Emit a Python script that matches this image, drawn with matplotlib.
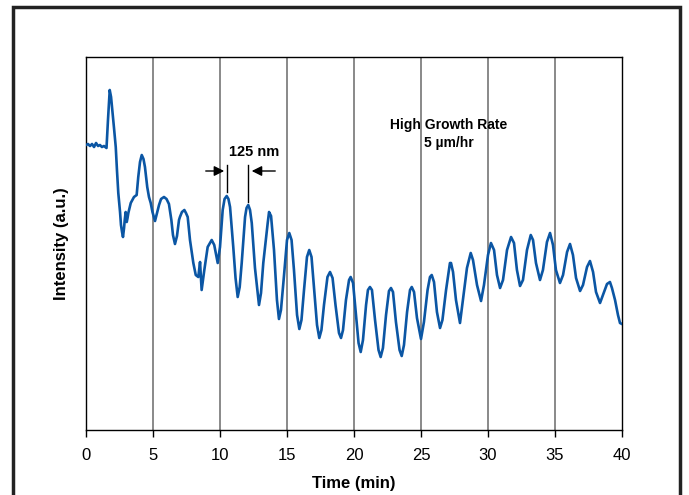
import matplotlib
matplotlib.use("Agg")
import matplotlib.pyplot as plt
from matplotlib.patches import Rectangle

# データ (時間 [min], 強度 [a.u.])
time_min = [
    0.00, 0.15, 0.30, 0.45, 0.60, 0.75, 0.90, 1.04, 1.19, 1.34, 1.53,
    1.64, 1.77, 1.87, 1.98, 2.09, 2.22, 2.31, 2.41, 2.54, 2.61, 2.69, 2.76,
    2.84, 2.89, 2.96, 3.04, 3.10, 3.16, 3.34, 3.58, 3.78,
    3.90, 4.03, 4.16, 4.29, 4.40, 4.57, 4.70, 4.83, 4.96, 5.15,
    5.30, 5.45, 5.60, 5.82, 6.01, 6.19, 6.37, 6.49, 6.64,
    6.79, 6.94, 7.01, 7.16, 7.34, 7.46, 7.59, 7.76, 8.01, 8.19, 8.38,
    8.51, 8.63, 8.83, 9.08, 9.38, 9.57, 9.83, 10.00,
    10.20, 10.34, 10.50, 10.63, 10.75, 10.99, 11.16, 11.32,
    11.47, 11.62, 11.87, 11.98, 12.11, 12.24, 12.37, 12.61, 12.91,
    13.06, 13.23, 13.56, 13.66, 13.81, 14.03, 14.25, 14.40,
    14.55, 14.78, 15.00, 15.17, 15.34, 15.52, 15.75, 15.92,
    16.08, 16.27, 16.49, 16.66, 16.83, 17.01, 17.24, 17.41,
    17.57, 17.76, 18.02, 18.21, 18.40, 18.62, 18.88, 19.03,
    19.18, 19.40, 19.63, 19.75, 19.93, 20.15, 20.34, 20.50,
    20.67, 20.90, 21.04, 21.19, 21.34, 21.57, 21.83, 21.99,
    22.16, 22.39, 22.61, 22.76, 22.91, 23.13, 23.40, 23.56,
    23.73, 23.96, 24.18, 24.31, 24.48, 24.70, 25.00,
    25.22, 25.49, 25.67, 25.80, 25.97, 26.19, 26.42,
    26.60, 26.87, 27.16, 27.24, 27.39, 27.61, 27.91,
    28.13, 28.43, 28.71, 28.88, 29.18, 29.48,
    29.70, 30.00, 30.22, 30.45, 30.67, 30.90,
    31.12, 31.42, 31.72, 31.94, 32.16, 32.39,
    32.61, 32.91, 33.19, 33.36, 33.58, 33.88,
    34.10, 34.40, 34.63, 34.85, 35.07, 35.37,
    35.60, 35.90, 36.12, 36.34, 36.57, 36.87,
    37.09, 37.39, 37.61, 37.84, 38.06, 38.36,
    38.58, 38.88, 39.10, 39.25, 39.48, 39.70, 39.85, 40.00,
]
intensity = [
    285, 286, 284, 286, 283, 287, 284, 285, 283, 284, 282,
    310, 340, 333, 318, 302, 283, 260, 237, 218, 205, 198, 193,
    202, 210, 218, 208, 212, 217, 227, 233, 235,
    253, 268, 275, 271, 263, 243, 233, 227, 218, 209,
    217, 225, 231, 233, 231, 226, 210, 195, 186,
    194, 210, 213, 218, 220, 217, 213, 190, 167, 155, 153,
    168, 140, 160, 183, 190, 185, 167, 183,
    220, 231, 234, 231, 223, 183, 152, 133,
    143, 167, 213, 222, 225, 220, 207, 162, 125,
    137, 167, 207, 218, 214, 180, 130, 111,
    120, 155, 190, 197, 190, 160, 115, 101,
    110, 140, 173, 180, 173, 143, 105, 92,
    100, 125, 153, 158, 152, 125, 97, 92,
    100, 130, 150, 153, 147, 115, 87, 78,
    90, 125, 140, 143, 140, 110, 80, 73,
    82, 115, 139, 142, 138, 108, 80, 74,
    85, 118, 140, 143, 138, 112, 91,
    108, 140, 153, 155, 148, 118, 102,
    110, 140, 167, 167, 158, 130, 107,
    130, 162, 177, 170, 145, 129,
    145, 175, 187, 180, 155, 142,
    150, 180, 193, 187, 160, 144,
    150, 180, 195, 190, 167, 150,
    160, 188, 197, 185, 160, 147,
    155, 178, 186, 175, 152, 139,
    145, 163, 169, 158, 138, 127,
    135, 146, 148, 142, 130, 115, 107, 106,
]
x_ticks = [0, 5, 10, 15, 20, 25, 30, 35, 40]

plt.rcParams['font.family'] = ['Liberation Sans', 'DejaVu Sans']

fig = plt.figure(figsize=(6.89, 4.95), dpi=100)
ax = fig.add_axes([86/689, 65/495, 536/689, 373/495])

# 外枠
fig.patches.append(Rectangle((13/689, -0.02), 667/689, 1.02 - 7/495,
                             transform=fig.transFigure, fill=False,
                             edgecolor='#222222', linewidth=2.5))

for t in x_ticks[1:-1]:
    ax.axvline(t, color='#6a6a6a', linewidth=1.1, zorder=1)

ax.plot(time_min, intensity, color='#0b56a4', linewidth=1.9, zorder=3)

ax.set_xlim(0, 40)
ax.set_ylim(0, 373)
ax.set_xticks(x_ticks)
ax.set_yticks([])
ax.tick_params(axis='x', direction='out', length=5, width=1, labelsize=12, pad=8)
for s in ax.spines.values():
    s.set_linewidth(1)
    s.set_color('black')

ax.set_xlabel('Time (min)', fontsize=12, fontweight='bold', labelpad=9)
ax.set_ylabel('Intensity (a.u.)', fontsize=12, fontweight='bold', labelpad=12)

# 125 nm 注釈
ap = dict(arrowstyle='-|>,head_length=0.6,head_width=0.3', color='black', lw=1)
ax.annotate('', xy=(10.52, 259), xytext=(8.73, 259), arrowprops=ap)
ax.annotate('', xy=(12.16, 259), xytext=(14.33, 259), arrowprops=ap)
ax.plot([10.52, 10.52], [238, 265], color='black', lw=1)
ax.plot([12.09, 12.09], [228, 265], color='black', lw=1)
ax.text(12.54, 278, '125 nm', ha='center', va='center', fontsize=10.5, fontweight='bold')

ax.text(27.09, 296, 'High Growth Rate\n5 µm/hr', ha='center', va='center',
        fontsize=10, fontweight='bold', linespacing=1.3)

fig.savefig('out.png', dpi=100)
